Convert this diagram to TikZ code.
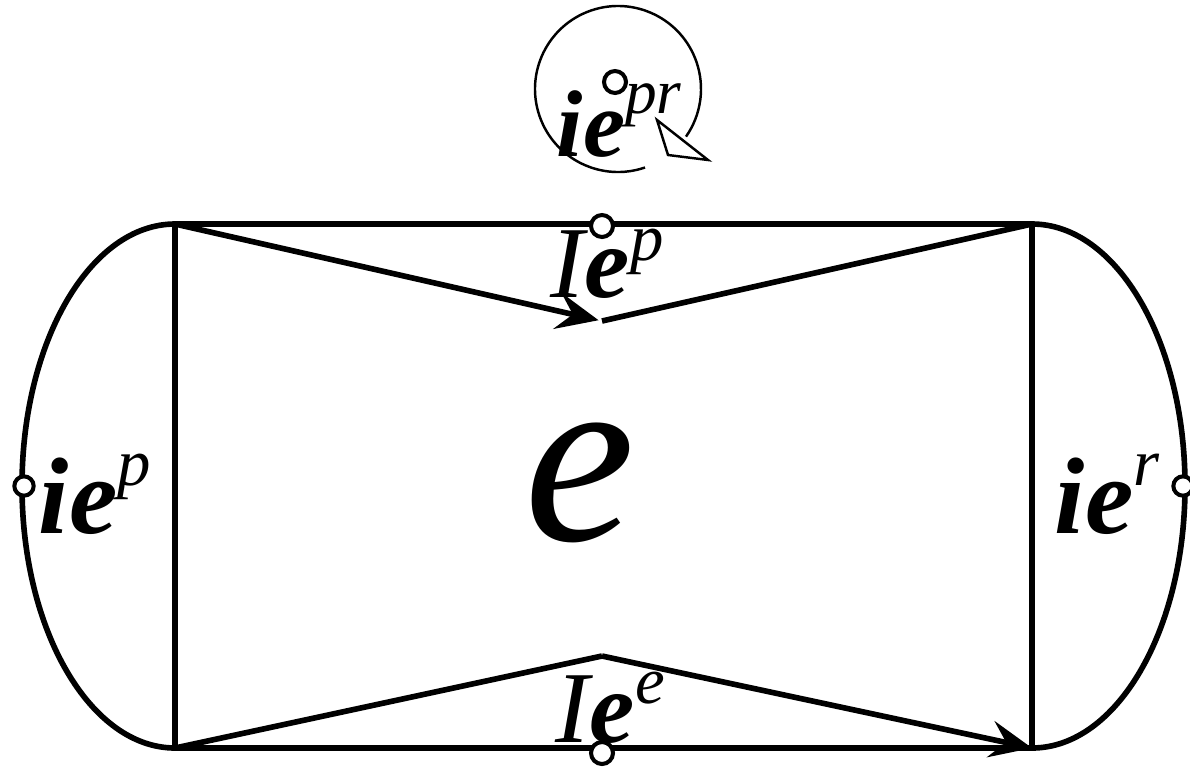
\documentclass[tikz,border=0pt]{standalone}
\usepackage{fontspec}
\setmainfont{Liberation Serif}
\usetikzlibrary{arrows.meta}

\newcommand{\basefont}[1]{\fontsize{#1}{#1}\selectfont}
\newcommand{\supr}[3]{\raisebox{#1}{\basefont{#2}\mdseries\itshape #3}}

\begin{document}
\begin{tikzpicture}[x=0.2mm, y=-0.2mm, line width=3.2pt,
    port/.style={circle, draw, fill=white, line width=2.3pt, inner sep=0pt, minimum size=12.5pt},
    lbl/.style={anchor=base west, inner sep=0pt},
    arr/.style={-{Stealth[length=24pt, width=21pt, inset=9pt]}}]
  \useasboundingbox (0,0) rectangle (1190,770);
  % corners and inner vertices
  \coordinate (tl) at (175,224);
  \coordinate (tr) at (1032,224);
  \coordinate (bl) at (175,748);
  \coordinate (br) at (1032,748);
  \coordinate (topv) at (602,321);
  \coordinate (botv) at (602,656);
  \coordinate (loopc) at (618,89);

  \draw (tl) -- (tr);
  \draw (bl) -- (br);
  \draw (tl) -- (bl);
  \draw (tr) -- (br);
  \draw (tl) arc[start angle=270, end angle=90, x radius=153, y radius=262];
  \draw (tr) arc[start angle=-90, end angle=90, x radius=153, y radius=262];

  \draw[arr, shorten >=2pt] (tl) -- (topv);
  \draw (topv) -- (tr);
  \draw (bl) -- (botv);
  \draw[arr] (botv) -- (br);

  % loop
  \draw[line width=1.4pt] (loopc) ++(71:83) arc[start angle=71, end angle=395, radius=83];
  \draw[line width=1.4pt] (657,120) -- (708,160) -- (668,155) -- cycle;

  \node[port] (ptop) at (602,226) {};
  \node[port] (pbot) at (602,753) {};
  \node[port, minimum size=11pt] (pleft) at (24,486) {};
  \node[port, minimum size=11pt] (pright) at (1183,486) {};
  \node[port] (ploop) at (615,82) {};

  \node[lbl] (lp) at (36,533) {\basefont{62}\bfseries\itshape ie\supr{27pt}{38}{p}};
  \node[lbl] (lr) at (1052,533) {\basefont{62}\bfseries\itshape ie\supr{27pt}{38}{r}};
  \node[lbl] (ltop) at (548,297) {\basefont{58}\itshape I\bfseries e\supr{21pt}{38}{p}};
  \node[lbl] (lbot) at (553,742) {\basefont{58}\itshape I\bfseries e\supr{22pt}{38}{e}};
  \node[lbl] (lpr) at (554,156) {\basefont{54}\bfseries\itshape ie\supr{24pt}{36}{pr}};
  \node[anchor=base, inner sep=0pt] (ecore) at (580,540) {\basefont{142}\itshape e};
\end{tikzpicture}
\end{document}
